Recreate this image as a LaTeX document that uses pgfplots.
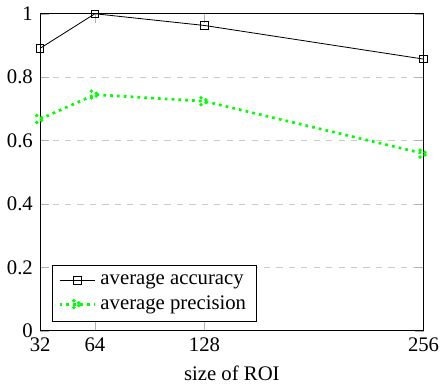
\documentclass[border=0pt]{standalone}
\usepackage{fontspec}
\setmainfont{Liberation Serif}
\usepackage{pgfplots}
\pgfplotsset{compat=1.18}
\begin{document}
\begin{tikzpicture}
\begin{axis}[
  scale only axis,
  width=185pt, height=153pt,
  xmin=32, xmax=256, ymin=0, ymax=1,
  xtick={32,64,128,256},
  ytick={0,0.2,0.4,0.6,0.8,1},
  yticklabels={0,0.2,0.4,0.6,0.8,1},
  ymajorgrids,
  grid style={dashed, gray!40},
  major tick style={gray!60},
  /pgf/number format/assume math mode=true,
  xlabel={size of ROI},
  legend pos=south west,
  legend cell align=left,
  clip=false,
]
\addplot[black, mark=square, mark size=1.8pt] coordinates {(32,0.891) (64,1.0) (128,0.963) (256,0.857)};
\addlegendentry{average accuracy}
\addplot[green, line width=1.3pt, dotted, mark=x, mark size=3pt] coordinates {(32,0.668) (64,0.745) (128,0.724) (256,0.559)};
\addlegendentry{average precision}
\end{axis}
\end{tikzpicture}
\end{document}
